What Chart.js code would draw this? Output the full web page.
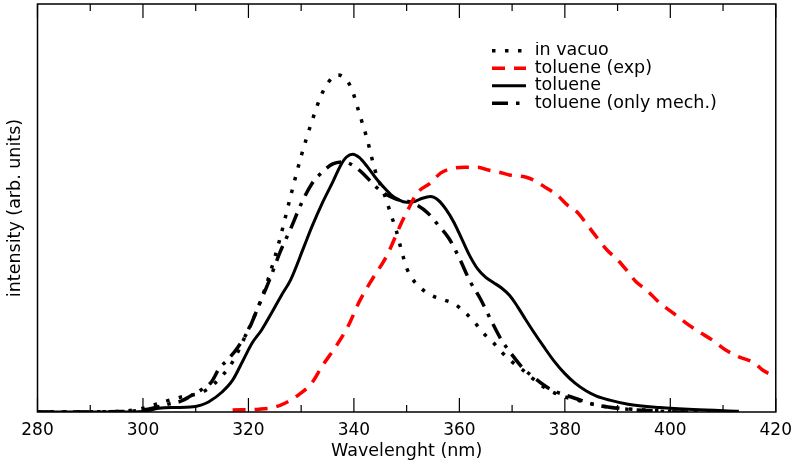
<!DOCTYPE html>
<html>
<head>
<meta charset="utf-8">
<script src="https://cdn.jsdelivr.net/npm/chart.js@4.4.0/dist/chart.umd.min.js"></script>
<style>
  html, body { margin: 0; padding: 0; background: #ffffff; }
  #spectra { display: block; }
</style>
</head>
<body>
<canvas id="spectra" width="800" height="467"></canvas>
<script>
Chart.defaults.color = "#000000";
Chart.defaults.font.family = "'DejaVu Sans', sans-serif";
Chart.defaults.font.size = 17;

// wavelength (nm) and intensity (arb. units, 0..100 of the axis height)
const vacuoNm = [280, 295, 300, 302, 305, 308, 311, 313.5, 317, 319.5,
  322, 324, 326, 328, 330, 332, 334, 336, 337, 338,
  339.5, 341, 342.5, 344, 346, 347, 348, 349, 350, 351,
  352.5, 354.5, 357, 359, 361, 363, 364.5, 366.5, 368, 370,
  372, 374, 376, 378, 380, 383, 386, 390, 395, 402, 410];
const vacuoInt = [0, 0.1, 0.9, 1.7, 2.9, 3.9, 4.7, 6.9, 12.3, 18.9,
  26.2, 33.6, 42.6, 52.9, 62.7, 71.1, 78.2, 82.1, 82.6, 82.1,
  79.4, 73.3, 66.9, 59.3, 52.5, 48.5, 44.6, 39.7, 35.3, 32.8,
  30.6, 28.7, 27.5, 26.5, 24.5, 21.8, 19.4, 16.9, 14.7, 12.3,
  10.3, 8.1, 6.1, 4.7, 3.7, 2.7, 1.7, 1.0, 0.5, 0.1, 0];

const expNm = [317, 322, 325, 327, 329.5, 332, 334, 336.5, 339, 341,
  343.5, 346, 347, 349, 350.5, 352, 354.5, 356.5, 359, 361,
  363.5, 365.5, 367.5, 369.5, 372.5, 374, 376.5, 378.5, 380.5, 382.5,
  384, 386, 388, 390, 392, 393.5, 395.5, 398, 400.5, 403,
  405.5, 408, 410.5, 413, 416, 417.5, 420];
const expInt = [0.5, 0.7, 1.2, 2.2, 4.2, 7.1, 11.3, 15.9, 21.3, 27.0,
  32.6, 37.7, 40.4, 46.3, 50.2, 53.7, 56.1, 58.6, 59.8, 60.0,
  60.0, 59.3, 58.8, 58.1, 57.6, 56.9, 54.9, 53.2, 50.7, 48.8,
  46.3, 42.9, 39.7, 37.3, 34.3, 31.9, 29.9, 26.7, 24.3, 21.8,
  19.6, 17.6, 15.2, 13.5, 12.0, 10.3, 8.6];

const tolNm = [280, 298, 300, 303, 306, 309, 311, 312.5, 315, 317,
  319, 320.7, 322.5, 324.4, 326.3, 328, 330.5, 332, 334, 336,
  337.5, 338.6, 339.8, 341, 342.5, 344, 345.5, 347, 348.5, 350,
  351.5, 353, 354.5, 356, 357.5, 359, 360.5, 362, 363.5, 365,
  366.5, 368, 369.5, 371, 372.5, 374, 376, 378, 380, 382,
  384, 386, 388.5, 392, 398, 404.4, 413];
const tolInt = [0, 0, 0.1, 0.9, 1.1, 1.2, 1.7, 2.5, 4.9, 7.8,
  12.7, 16.9, 20.1, 24.3, 28.7, 32.4, 40.4, 45.3, 51.2, 56.4,
  60.5, 62.5, 63.2, 62.4, 60.2, 57.6, 55.3, 53.3, 52.0, 51.4,
  51.6, 52.4, 52.8, 51.9, 49.6, 46.4, 42.3, 38.2, 35.0, 33.0,
  31.7, 30.4, 28.6, 25.9, 22.8, 19.8, 16.0, 12.4, 9.4, 7.0,
  5.2, 3.9, 2.9, 1.9, 1.1, 0.6, 0.2];

const mechNm = [280, 296, 300, 302, 305, 307.3, 309, 311, 313, 314.5,
  316, 318, 320, 322, 324, 326, 328, 330, 332, 334,
  336, 338, 340, 342, 344, 346, 348, 350, 352, 354,
  356, 358, 360, 362, 364, 366, 368, 370, 372, 374,
  376, 378, 380, 383, 386, 390, 395, 400, 405];
const mechInt = [0, 0.1, 0.5, 1.0, 2.0, 2.7, 3.9, 5.4, 7.4, 10.8,
  12.7, 15.9, 20.1, 26.2, 32.4, 39.2, 44.9, 51.0, 55.9, 58.8,
  60.8, 61.3, 60.3, 58.1, 55.4, 53.4, 52.2, 51.7, 50.7, 48.8,
  45.8, 42.6, 37.7, 32.1, 27.7, 22.5, 17.6, 14.0, 10.8, 8.6,
  6.6, 5.1, 4.2, 2.9, 1.7, 0.9, 0.4, 0.1, 0];

const xMin = 280, xMax = 420, xStep = 20;

function toPoints(xs, ys) {
  return xs.map((x, i) => ({ x: x, y: ys[i] }));
}

// frame box and inward ticks (major + minor), top and bottom
const frame = {
  id: 'frame',
  afterDatasetsDraw(chart) {
    const { ctx, chartArea: a } = chart;
    const x = chart.scales.x;
    ctx.save();
    ctx.strokeStyle = '#000000';
    ctx.lineWidth = 1.5;
    ctx.strokeRect(a.left, a.top, a.right - a.left, a.bottom - a.top);
    ctx.beginPath();
    x.ticks.forEach((t, i) => {
      let px = x.getPixelForValue(t.value);
      ctx.moveTo(px, a.bottom); ctx.lineTo(px, a.bottom - 14);
      ctx.moveTo(px, a.top); ctx.lineTo(px, a.top + 14);
      if (i < x.ticks.length - 1) {
        let pm = x.getPixelForValue((t.value + x.ticks[i + 1].value) / 2);
        ctx.moveTo(pm, a.bottom); ctx.lineTo(pm, a.bottom - 7);
        ctx.moveTo(pm, a.top); ctx.lineTo(pm, a.top + 7);
      }
    });
    ctx.lineWidth = 1.2;
    ctx.stroke();
    ctx.restore();
  }
};

// put the legend in the upper right of the plot
const legendSpot = {
  id: 'legendSpot',
  afterLayout(chart) {
    const lg = chart.legend;
    const h = lg.height;
    lg.left = 492; lg.right = 800;
    lg.top = 42; lg.bottom = 42 + h;
  }
};

const ctx = document.getElementById('spectra').getContext('2d');

const chart = new Chart(ctx, {
  type: 'scatter',
  data: {
    datasets: [
      {
        label: "in vacuo",
        data: toPoints(vacuoNm, vacuoInt),
        borderColor: "#000000",
        borderWidth: 3.5,
        borderDash: [3.5, 9.5],
      },
      {
        label: "toluene (exp)",
        data: toPoints(expNm, expInt),
        borderColor: "#ff0000",
        borderWidth: 3.5,
        borderDash: [13, 9],
      },
      {
        label: "toluene",
        data: toPoints(tolNm, tolInt),
        borderColor: "#000000",
        borderWidth: 3,
      },
      {
        label: "toluene (only mech.)",
        data: toPoints(mechNm, mechInt),
        borderColor: "#000000",
        borderWidth: 3.5,
        borderDash: [16, 8, 3.5, 8],
      },
    ]
  },
  options: {
    responsive: false,
    animation: false,
    devicePixelRatio: 1,
    showLine: true,
    layout: { padding: { top: 4, right: 20.5, left: 0, bottom: 0 } },
    elements: {
      point: { radius: 0 },
      line: { cubicInterpolationMode: 'monotone', borderCapStyle: 'butt' },
    },
    scales: {
      x: {
        type: 'linear',
        min: xMin,
        max: xMax,
        grid: { display: false, drawTicks: false },
        border: { display: false },
        ticks: { stepSize: xStep, padding: 8, font: { size: 17 } },
        title: {
          display: true,
          text: "Wavelenght (nm)",
          font: { size: 17.5 },
          padding: { top: 0, bottom: 5.5 },
        },
        afterFit(scale) { scale.height = 55; },
      },
      y: {
        min: 0,
        max: 100,
        grid: { display: false, drawTicks: false },
        border: { display: false },
        ticks: { display: false },
        title: {
          display: true,
          text: "intensity (arb. units)",
          font: { size: 17.5 },
          padding: { top: 5, bottom: 0 },
        },
        afterFit(scale) { scale.width = 37.5; },
      },
    },
    plugins: {
      tooltip: { enabled: false },
      legend: {
        position: 'chartArea',
        align: 'start',
        labels: {
          usePointStyle: true,
          pointStyle: 'line',
          pointStyleWidth: 34,
          boxHeight: 17.5,
          padding: 0,
          color: "#000000",
          font: { size: 17.5 },
          generateLabels(chart) {
            const items = Chart.defaults.plugins.legend.labels.generateLabels(chart);
            items.forEach(it => {
              const ds = chart.data.datasets[it.datasetIndex];
              it.pointStyle = 'line';
              it.strokeStyle = ds.borderColor;
              it.lineWidth = ds.borderWidth;
              it.lineDash = ds.borderDash || [];
              it.lineCap = 'butt';
            });
            return items;
          },
        },
      },
    },
  },
  plugins: [frame, legendSpot],
});
</script>
</body>
</html>
